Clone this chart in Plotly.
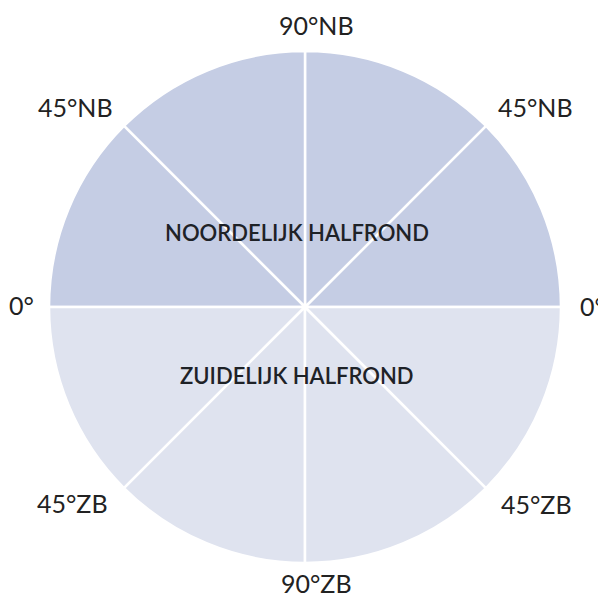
import plotly.graph_objects as go

# page body has an 8px margin; figure is sized to fit the remaining window
OFF = 8
W, H = 606 - OFF, 599 - OFF

# Data
sectors = ["N 0-45 O", "N 45-90 O", "N 90-45 W", "N 45-0 W", "Z 0-45 W", "Z 45-90 W", "Z 90-45 O", "Z 45-0 O"]
sector_size = [45, 45, 45, 45, 45, 45, 45, 45]
hemisphere = ["NB", "NB", "NB", "NB", "ZB", "ZB", "ZB", "ZB"]
outer_labels = ["90°NB", "45°NB", "45°NB", "0°", "0°", "45°ZB", "45°ZB", "90°ZB"]
inner_labels = ["NOORDELIJK HALFROND", "ZUIDELIJK HALFROND"]

col = {"NB": "#c5cde4", "ZB": "#dfe3ef"}

cx, cy, r = 305 - OFF, 307 - OFF, 256

fig = go.Figure(go.Pie(
    values=sector_size,
    labels=sectors,
    marker=dict(colors=[col[h] for h in hemisphere], line=dict(color="white", width=2.5)),
    sort=False,
    direction="counterclockwise",
    rotation=45,
    textinfo="none",
    hoverinfo="skip",
    showlegend=False,
    domain=dict(x=[(cx - r) / W, (cx + r) / W], y=[1 - (cy + r) / H, 1 - (cy - r) / H]),
))

label_pos = [(316, 25), (75, 107), (535, 107), (22, 305), (592, 306), (72, 503), (536, 504), (316, 583)]
annos = []
for t, (px, py) in zip(outer_labels, label_pos):
    annos.append(dict(x=(px - OFF) / W, y=1 - (py - OFF) / H, xref="paper", yref="paper", text=t,
                      showarrow=False, xanchor="center", yanchor="middle",
                      font=dict(family="Lato", size=25, color="#222222")))
for t, (px, py) in zip(inner_labels, [(297, 233), (297, 375)]):
    annos.append(dict(x=(px - OFF) / W, y=1 - (py - OFF) / H, xref="paper", yref="paper", text=t,
                      showarrow=False, xanchor="center", yanchor="middle",
                      font=dict(family="Lato", size=22, color="#1e2227", weight=600)))

fig.update_layout(
    width=W, height=H,
    margin=dict(l=0, r=0, t=0, b=0),
    paper_bgcolor="white", plot_bgcolor="white",
    annotations=annos,
)
fig.write_html("out.html")
